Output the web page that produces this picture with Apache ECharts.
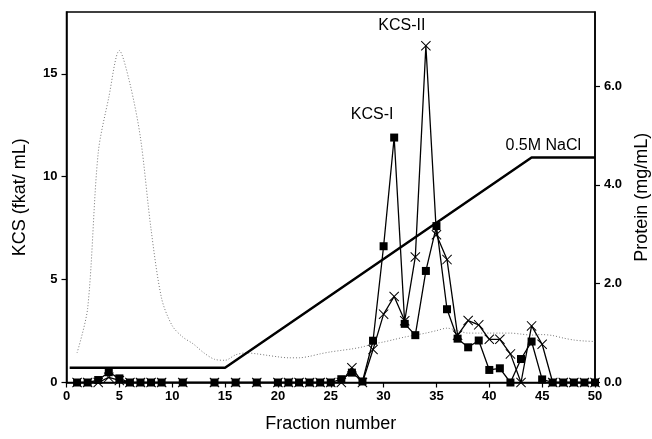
<!DOCTYPE html>
<html>
<head>
<meta charset="utf-8">
<script src="https://cdn.jsdelivr.net/npm/echarts@6/dist/echarts.min.js"></script>
<style>
    html, body { margin: 0; padding: 0; background: #fff; }
    #chart { width: 652px; height: 439px; }
</style>
</head>
<body>
<div id="chart"></div>
<script>
    // fractions that were assayed
    var fractions = [1, 2, 3, 4, 5, 6, 7, 8, 9, 11, 14, 16, 18, 20, 21, 22, 23, 24, 25, 26, 27, 28,
        29, 30, 31, 32, 33, 34, 35, 36, 37, 38, 39, 40, 41, 42, 43, 44, 45, 46, 47, 48, 49, 50]
    // KCS activity, filled squares
    var kcsSquare = [0, 0, 0.12, 0.5, 0.2, 0, 0, 0, 0, 0, 0, 0, 0, 0, 0, 0, 0, 0, 0, 0.16, 0.48, 0.05,
        2.03, 6.62, 11.9, 2.85, 2.3, 5.42, 7.6, 3.56, 2.13, 1.71, 2.04, 0.61, 0.69, 0, 1.14, 1.99, 0.15, 0, 0, 0, 0, 0]
    // KCS activity, crosses
    var kcsCross = [0, 0, 0, 0.25, 0.1, 0, 0, 0, 0, 0, 0, 0, 0, 0, 0, 0, 0, 0, 0, 0, 0.72, 0,
        1.6, 3.32, 4.18, 3.0, 6.1, 16.36, 7.18, 5.97, 2.3, 3.01, 2.8, 2.1, 2.1, 1.39, 0, 2.75, 1.86, 0, 0, 0, 0, 0]

    // protein (mg/mL), fractions 1..50
    var proteinFractions = []
    for (var f = 1; f <= 50; f++) proteinFractions.push(f)
    var protein = [0.6, 1.5, 4.65, 5.77, 6.72, 6.05, 4.95, 3.1, 1.7, 1.15,
        0.92, 0.78, 0.6, 0.47, 0.45, 0.56, 0.6, 0.58, 0.55, 0.52,
        0.5, 0.5, 0.53, 0.58, 0.62, 0.65, 0.68, 0.72, 0.78, 0.82,
        0.87, 0.92, 0.96, 1.0, 1.05, 1.1, 1.05, 1.0, 1.0, 1.0,
        1.0, 1.0, 0.98, 0.96, 0.97, 0.95, 0.9, 0.86, 0.84, 0.83]

    // NaCl gradient drawn on the KCS scale
    var naclX = [0.3, 15, 44, 50]
    var naclY = [0.72, 0.72, 10.93, 10.93]

    var leftTicks = [0, 5, 10, 15]
    var rightTicks = [0, 2, 4, 6]

    var pairs = function (xs, ys) {
        var res = []
        for (var i = 0; i < xs.length; i++) res.push([xs[i], ys[i]])
        return res
    }

    var font = '"Liberation Sans", Arial, sans-serif'
    var crossPath = 'path://M0,0.7L0.7,0L5,4.3L9.3,0L10,0.7L5.7,5L10,9.3L9.3,10L5,5.7L0.7,10L0,9.3L4.3,5Z'

    var tickLabel = { color: '#000', fontFamily: font, fontWeight: 'bold', fontSize: 13 }
    var nameStyle = { color: '#000', fontFamily: font, fontSize: 18 }
    var axisLine = { show: true, lineStyle: { color: '#000', width: 1.5 } }

    var chart = echarts.init(document.getElementById('chart'))

    var option = {
        animation: false,
        backgroundColor: '#fff',
        grid: {
            left: 66.5, right: 57, top: 12, bottom: 56.5,
            outerBoundsMode: 'none', containLabel: false,
            show: true, borderColor: '#000', borderWidth: 1.5
        },
        xAxis: {
            type: 'value', min: 0, max: 50, interval: 5,
            name: 'Fraction number', nameLocation: 'middle', nameGap: 33,
            nameTextStyle: nameStyle,
            axisLine: axisLine,
            axisTick: { show: true, length: 5, lineStyle: { color: '#000', width: 1.2 } },
            axisLabel: Object.assign({ margin: 7 }, tickLabel),
            splitLine: { show: false }
        },
        yAxis: [
            {
                type: 'value', min: 0, max: 18, position: 'left',
                name: 'KCS (fkat/ mL)', nameLocation: 'middle', nameGap: 37, nameRotate: 90,
                nameTextStyle: nameStyle,
                axisLine: axisLine,
                axisTick: { show: true, length: 5, customValues: leftTicks, lineStyle: { color: '#000', width: 1.2 } },
                axisLabel: Object.assign({ customValues: leftTicks, margin: 9 }, tickLabel),
                splitLine: { show: false }
            },
            {
                type: 'value', min: 0, max: 7.5, position: 'right',
                name: 'Protein (mg/mL)', nameLocation: 'middle', nameGap: 37, nameRotate: 90,
                nameTextStyle: nameStyle,
                axisLine: axisLine,
                axisTick: { show: true, length: 5, customValues: rightTicks, lineStyle: { color: '#000', width: 1.2 } },
                axisLabel: Object.assign({
                    customValues: rightTicks,
                    margin: 9,
                    formatter: function (v) { return v.toFixed(1) }
                }, tickLabel),
                splitLine: { show: false }
            }
        ],
        series: [
            {
                name: 'Protein', type: 'line', yAxisIndex: 1,
                data: pairs(proteinFractions, protein),
                smooth: 0.3, showSymbol: false, silent: true,
                lineStyle: { color: '#777', width: 1, type: [1, 2] },
                z: 1
            },
            {
                name: 'NaCl', type: 'line', yAxisIndex: 0,
                data: pairs(naclX, naclY),
                showSymbol: false, silent: true,
                lineStyle: { color: '#000', width: 2.5 },
                z: 2
            },
            {
                name: 'KCS cross', type: 'line', yAxisIndex: 0,
                data: pairs(fractions, kcsCross),
                symbol: crossPath, symbolSize: 10,
                itemStyle: { color: '#000' },
                lineStyle: { color: '#000', width: 1.3 },
                z: 3
            },
            {
                name: 'KCS square', type: 'line', yAxisIndex: 0,
                data: pairs(fractions, kcsSquare),
                symbol: 'rect', symbolSize: 8,
                itemStyle: { color: '#000' },
                lineStyle: { color: '#000', width: 1.3 },
                z: 4
            }
        ]
    }

    chart.setOption(option)

    // peak / gradient annotations, anchored to the data
    var at = function (x, y) { return chart.convertToPixel({ xAxisIndex: 0, yAxisIndex: 0 }, [x, y]) }
    var p1 = at(31, 11.9), p2 = at(34, 16.36), p3 = at(47, 10.93)
    var txt = function (p, dx, dy, s) {
        return {
            type: 'text', x: p[0] + dx, y: p[1] + dy,
            style: { text: s, fill: '#000', font: '16px ' + font, textAlign: 'center', textVerticalAlign: 'middle' }
        }
    }
    chart.setOption({
        graphic: [
            txt(p1, -22, -23, 'KCS-I'),
            txt(p2, -24, -20, 'KCS-II'),
            txt(p3, -20, -12, '0.5M NaCl')
        ]
    })
</script>
</body>
</html>
